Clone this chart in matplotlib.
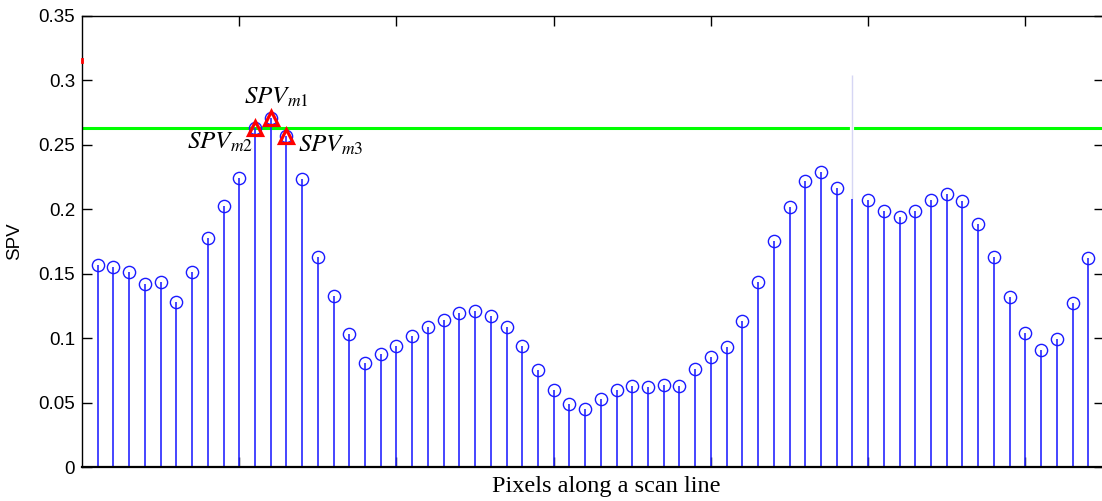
import numpy as np
import matplotlib
matplotlib.use("Agg")
import matplotlib.pyplot as plt

# SPV value for each pixel along the scan line (pixel index 1..64)
pixels = np.arange(1, 65)
spv = [0.157, 0.155, 0.1516, 0.1418, 0.1438, 0.1283, 0.1516, 0.1777, 0.2028, 0.224,
       0.2633, 0.2706, 0.2569, 0.2233, 0.1627, 0.1327, 0.1030, 0.0805, 0.0874, 0.0939,
       0.1017, 0.1086, 0.1138, 0.1198, 0.1208, 0.1174, 0.1084, 0.0939, 0.0753, 0.0595,
       0.0492, 0.0450, 0.0528, 0.0595, 0.0629, 0.0618, 0.0639, 0.0629, 0.0763, 0.0851,
       0.0931, 0.1130, 0.1438, 0.1756, 0.2018, 0.2219, 0.2287, 0.2163, 0.2077, 0.2072,
       0.1984, 0.1940, 0.1984, 0.2072, 0.2116, 0.2062, 0.1883, 0.1627, 0.1317, 0.1040,
       0.0908, 0.0993, 0.1275, 0.1620]

# pixel without a circle marker
unmarked_pixel = 49

# local maxima picked out around the first peak
peak_pixels = [12, 11, 13]
peak_labels = [r"$SPV_{m1}$", r"$SPV_{m2}$", r"$SPV_{m3}$"]
label_pos = [(12.39, 0.2871), (8.77, 0.2522), (15.82, 0.2499)]

threshold = 0.263

y_ticks = [0, 0.05, 0.1, 0.15, 0.2, 0.25, 0.3, 0.35]
y_tick_labels = ["0", "0.05", "0.1", "0.15", "0.2", "0.25", "0.3", "0.35"]

plt.rcParams["font.family"] = ["Liberation Sans", "DejaVu Sans"]
plt.rcParams["mathtext.fontset"] = "stix"

fig = plt.figure(figsize=(11.02, 5.01), dpi=100)
ax = fig.add_axes([82 / 1102, 34 / 501, (1104 - 82) / 1102, (467 - 16) / 501])

spv_arr = np.array(spv)
stem_color = "#2626ff"

# stems
ax.vlines(pixels, 0, spv_arr, colors=stem_color, linewidth=1.2, zorder=2)

# circle heads
mask = pixels != unmarked_pixel
ax.plot(pixels[mask], spv_arr[mask], linestyle="none", marker="o",
        markersize=8.8, markerfacecolor="none", markeredgecolor="#1a1aff",
        markeredgewidth=1.0, zorder=3)

# threshold line
ax.axhline(threshold, color="#00ff00", linewidth=2.2, zorder=1.5)

# faint trace above the unmarked pixel
top_trace = 0.304
ax.vlines([unmarked_pixel], spv_arr[unmarked_pixel - 1], top_trace,
          colors="white", linewidth=3.0, zorder=1.8)
ax.vlines([unmarked_pixel], spv_arr[unmarked_pixel - 1], top_trace,
          colors="#d6d6f4", linewidth=1.0, zorder=1.9)

# peak markers and labels
peak_vals = [spv[p - 1] for p in peak_pixels]
ax.plot(peak_pixels, peak_vals, linestyle="none", marker="^", markersize=10.5,
        markerfacecolor="none", markeredgecolor="#ff0000", markeredgewidth=2.3,
        zorder=4)
for lab, (lx, ly) in zip(peak_labels, label_pos):
    ax.text(lx, ly, lab, fontsize=18, ha="center", va="center", color="black")

# small red mark on the left edge
ax.plot([0, 0], [0.3140, 0.3166], color="red", linewidth=2.0, zorder=5,
        clip_on=False)

ax.set_xlim(0, 65)
ax.set_ylim(0, 0.35)
ax.set_xticks(np.arange(10, 70, 10))
ax.set_xticklabels([])
ax.set_yticks(y_ticks)
ax.set_yticklabels(y_tick_labels)
ax.tick_params(direction="in", length=7, width=1, top=True, right=True,
               labelsize=13.5, pad=5)
for side in ["left", "top", "right"]:
    ax.spines[side].set_linewidth(1.0)
ax.spines["bottom"].set_linewidth(1.6)

ax.set_ylabel("SPV", fontsize=13.5)
ax.yaxis.set_label_coords(-0.058, 0.50)
ax.set_xlabel("Pixels along a scan line", fontsize=17.5,
              family=["Liberation Serif", "DejaVu Serif"])
ax.xaxis.set_label_coords(0.513, -0.02)

fig.savefig("out.png", dpi=100)
